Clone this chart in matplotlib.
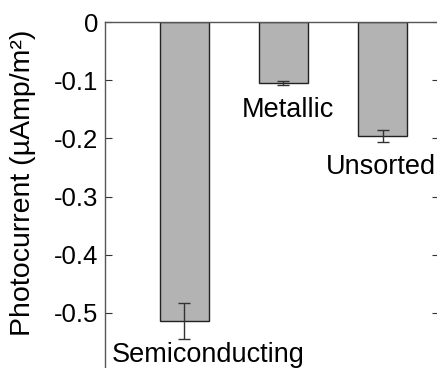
import numpy as np
import matplotlib
matplotlib.use('Agg')
import matplotlib.pyplot as plt

plt.rcParams['font.family'] = ['Liberation Sans', 'DejaVu Sans']

# photocurrent per sample type
samples = ['Semiconducting', 'Metallic', 'Unsorted']
photocurrent = [-0.514, -0.105, -0.196]
error = [0.031, 0.003, 0.010]
yticks = [0, -0.1, -0.2, -0.3, -0.4, -0.5]
ytick_labels = ['0', '-0.1', '-0.2', '-0.3', '-0.4', '-0.5']

fig = plt.figure(figsize=(4.37, 3.68), dpi=100)
ax = fig.add_axes([0.2403, -0.0082, 0.7643, 0.9484])

pos = np.arange(1, len(samples) + 1)
ax.bar(pos, photocurrent, width=0.5, color='#b3b3b3', edgecolor='#222222', linewidth=1.0)
ax.errorbar(pos, photocurrent, yerr=error, fmt='none', ecolor='#333333',
            elinewidth=1.0, capsize=4.5, capthick=1.0)

ax.set_xlim(0.2, 3.57)
ax.set_ylim(-0.6, 0)
ax.set_xticks([])
ax.set_yticks(yticks)
ax.set_yticklabels(ytick_labels, fontsize=18.5)
ax.tick_params(axis='y', direction='in', length=5, width=0.8, right=True,
               pad=5, color='#333333')
for s in ax.spines.values():
    s.set_color('#555555')
    s.set_linewidth(1.0)

# sample names next to the bars
ax.text(2.045, -0.151, samples[1], fontsize=19.5, ha='center', va='center')
ax.text(2.98, -0.249, samples[2], fontsize=19.5, ha='center', va='center')
ax.text(1.24, -0.584, samples[0], fontsize=19.5, ha='center', va='baseline')

fig.text(0.053, 0.503, 'Photocurrent (µAmp/m²)', rotation=90, fontsize=20.5,
         ha='center', va='center')

fig.savefig('out.png', dpi=100)
